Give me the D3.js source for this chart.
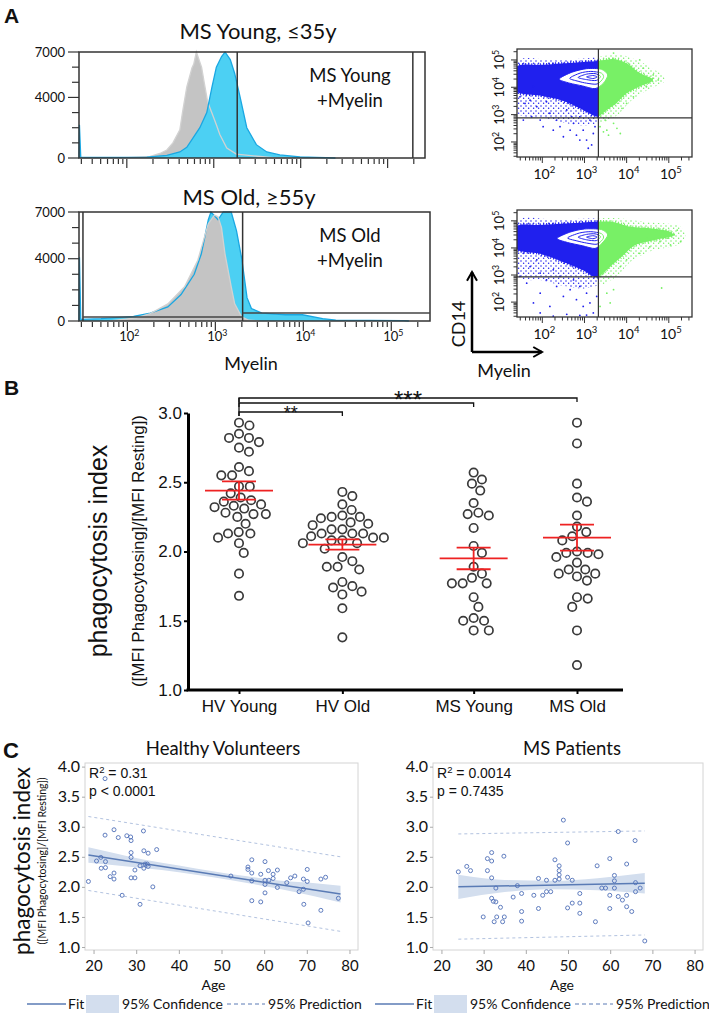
<!DOCTYPE html>
<html>
<head>
<meta charset="utf-8">
<script src="https://cdn.jsdelivr.net/npm/d3@7"></script>
<style>
  body { margin: 0; background: #fff; }
  text { fill: #111; }
</style>
</head>
<body>
<svg id="fig" width="709" height="1018"></svg>
<script>
// ---------- A: histograms (log10 myelin signal, events)
var youngRestLog = [1.46, 2.0, 2.27, 2.38, 2.46, 2.53, 2.61, 2.64, 2.69, 2.75, 2.77, 2.80, 2.86, 2.89, 2.93, 2.99, 3.03, 3.07, 3.15, 3.26, 3.53, 3.68, 3.9];
var youngRestCount = [0, 20, 100, 300, 530, 1000, 1860, 3000, 4690, 5960, 6200, 7000, 6000, 5000, 3700, 2800, 2200, 1550, 660, 260, 100, 30, 0];
var youngMyelinLog = [1.45, 1.455, 1.47, 1.6, 1.9, 2.23, 2.46, 2.61, 2.69, 2.84, 2.92, 2.98, 3.03, 3.09, 3.13, 3.19, 3.24, 3.30, 3.38, 3.49, 3.61, 3.76, 3.99, 4.18, 4.4];
var youngMyelinCount = [0, 2200, 60, 40, 40, 60, 180, 400, 700, 2000, 3000, 4700, 6000, 6700, 7000, 6500, 5600, 4100, 2000, 880, 400, 200, 80, 40, 0];
var oldRestLog = [1.8, 2.1, 2.26, 2.46, 2.65, 2.80, 2.92, 2.99, 3.03, 3.07, 3.11, 3.18, 3.22, 3.30, 3.38, 3.5];
var oldRestCount = [0, 200, 470, 1100, 2200, 3900, 6250, 6800, 6700, 6000, 4300, 2200, 1100, 260, 50, 0];
var oldMyelinLog = [1.45, 1.455, 1.47, 1.7, 2.07, 2.26, 2.46, 2.61, 2.76, 2.84, 2.92, 2.95, 3.03, 3.09, 3.18, 3.24, 3.30, 3.36, 3.41, 3.53, 3.80, 3.99, 4.22, 4.37, 4.75, 5.14, 5.2];
var oldMyelinCount = [0, 4100, 100, 150, 300, 500, 900, 1700, 3000, 4300, 6500, 7000, 6500, 7000, 7000, 5800, 4000, 1500, 800, 500, 400, 400, 150, 60, 40, 30, 0];
var histTicks = [0, 1000, 2000, 3000, 4000, 5000, 6000, 7000];
var histLabels = [0, 4000, 7000];
var decades = [2, 3, 4, 5];

// ---------- A: dot plots (log10 myelin, log10 CD14)
var youngCells = [[1.40,4.76],[1.95,4.82],[2.73,4.90],[3.30,4.96],[3.68,5.03],[4.00,4.88],[4.31,4.52],[4.63,4.27],[4.31,4.03],[4.00,3.78],[3.76,3.42],[3.53,3.17],[3.35,2.95],[3.25,2.95],[3.05,3.10],[2.80,3.30],[2.40,3.55],[1.95,3.70],[1.40,3.85]];
var youngFringe = [[1.40,4.95],[2.2,5.0],[3.0,5.05],[3.8,5.2],[4.3,4.95],[4.8,4.5],[4.9,4.2],[4.5,3.9],[4.1,3.5],[3.8,3.0],[3.5,2.75],[3.0,2.6],[2.5,2.7],[2.0,2.9],[1.4,3.1]];
var youngContours = [
  [[2.40,4.30],[2.70,4.55],[3.05,4.68],[3.40,4.66],[3.55,4.45],[3.45,4.15],[3.25,3.95],[2.95,4.05],[2.65,4.15]],
  [[2.65,4.33],[2.90,4.52],[3.15,4.58],[3.40,4.52],[3.45,4.35],[3.30,4.12],[3.05,4.15],[2.85,4.22]],
  [[2.85,4.36],[3.05,4.48],[3.25,4.50],[3.38,4.40],[3.28,4.25],[3.05,4.28]],
  [[3.05,4.38],[3.20,4.43],[3.30,4.38],[3.20,4.32]]];
var youngSparse = [[1.47,3.65],[1.59,3.41],[1.71,3.53],[1.87,3.29],[1.95,2.80],[2.10,3.47],[2.18,3.05],[2.34,2.80],[2.42,2.56],[2.58,3.17],[2.66,2.43],[2.74,2.68],[2.81,2.25],[2.89,2.92],[2.97,2.43],[3.05,2.07],[3.13,2.80],[3.17,1.89],[3.21,2.31],[3.25,2.56],[1.55,2.80],[1.79,4.02],[1.95,3.84],[2.50,2.19],[2.26,2.43],[3.09,1.77],[2.89,2.07],[2.02,2.56],[1.75,2.92],[2.70,2.92],
  [3.37,2.56],[3.45,2.37],[3.53,2.43],[3.57,2.25],[3.69,2.68],[3.77,2.50],[3.85,2.31],[3.49,2.80],[4.39,4.70],[4.63,4.45],[4.75,4.27],[4.47,4.02],[4.16,3.65],[4.00,3.41],[3.89,3.23],[4.31,5.00],[3.69,5.25]];
var oldCells = [[1.40,4.80],[1.95,4.85],[2.73,4.92],[3.30,4.97],[3.70,4.95],[4.10,4.78],[4.60,4.72],[5.00,4.62],[5.10,4.45],[4.70,4.30],[4.20,4.10],[3.90,3.70],[3.60,3.30],[3.35,2.95],[3.20,2.95],[3.00,3.15],[2.70,3.35],[2.30,3.60],[1.90,3.80],[1.40,3.95]];
var oldFringe = [[1.40,4.98],[2.2,5.05],[3.0,5.08],[3.8,5.1],[4.5,4.95],[5.2,4.85],[5.4,4.5],[5.2,4.1],[4.6,3.9],[4.1,3.5],[3.8,3.0],[3.5,2.7],[3.0,2.5],[2.5,2.6],[2.0,2.8],[1.4,3.0]];
var oldContours = [
  [[2.35,4.35],[2.65,4.58],[3.00,4.70],[3.40,4.68],[3.55,4.48],[3.42,4.18],[3.25,3.98],[2.95,4.08],[2.60,4.20]],
  [[2.60,4.37],[2.88,4.55],[3.15,4.60],[3.40,4.53],[3.45,4.36],[3.30,4.14],[3.05,4.18],[2.82,4.26]],
  [[2.85,4.40],[3.05,4.50],[3.25,4.52],[3.38,4.42],[3.28,4.27],[3.05,4.30]],
  [[3.05,4.40],[3.20,4.45],[3.30,4.40],[3.20,4.34]]];
var oldSparse = [[1.55,3.80],[1.71,3.31],[1.87,3.56],[1.95,3.07],[2.10,2.82],[2.26,3.19],[1.63,2.70],[2.34,2.58],[2.50,2.21],[2.66,2.46],[2.81,2.09],[2.89,2.58],[2.97,1.84],[3.05,2.33],[3.13,1.97],[3.21,1.60],[3.29,2.21],[1.95,1.60],[2.26,1.48],[2.58,1.55],[2.89,1.51],[3.05,1.52],[1.95,2.33],[1.79,1.97],[2.18,1.84],[2.74,2.82],[2.42,2.95],[1.47,2.95],
  [3.37,1.84],[3.53,2.33],[3.69,2.46],[3.61,1.97],[4.83,2.52],[4.71,4.60],[4.96,4.36],[5.12,4.48],[5.28,4.23],[5.04,4.11],[4.55,4.04],[4.31,3.80],[4.00,3.56],[3.85,3.31],[4.47,4.36],[5.20,4.66],[4.79,4.23]];
var myelinGate = 3.33, cd14Gate = [2.88, 2.93];

// ---------- B: phagocytosis index per group
var groupNames = ["HV Young", "HV Old", "MS Young", "MS Old"];
var hvYoung = [2.93,2.91,2.82,2.79,2.82,2.85,2.75,2.72,2.58,2.55,2.55,2.61,2.47,2.47,2.39,2.36,2.37,2.42,2.33,2.31,2.28,2.32,2.34,2.27,2.25,2.27,2.20,2.14,2.13,2.10,2.13,2.06,1.99,1.84,1.68];
var hvOld = [2.43,2.40,2.34,2.26,2.25,2.30,2.24,2.25,2.19,2.16,2.21,2.16,2.20,2.10,2.08,2.13,2.13,2.13,2.10,2.11,2.06,2.02,2.06,2.08,1.96,1.93,1.89,1.87,1.89,1.75,1.78,1.74,1.69,1.71,1.59,1.38];
var msYoung = [2.57,2.52,2.49,2.44,2.35,2.27,2.26,2.28,2.17,2.04,1.99,1.89,1.81,1.77,1.77,1.77,1.84,1.67,1.60,1.50,1.52,1.50,1.43,1.43];
var msOld = [2.93,2.78,2.49,2.36,2.39,2.26,2.14,2.18,2.11,2.08,1.99,1.98,1.96,1.99,2.00,1.92,1.84,1.82,1.87,1.87,1.84,1.79,1.67,1.66,1.60,1.43,1.18];
var groupMean = [2.44, 2.05, 1.95, 2.10];
var groupSem = [0.066, 0.037, 0.078, 0.094];
var compareTo = [1, 2, 3];
var compareLabel = ["**", "", "***"];
var indexTicks = [1.0, 1.5, 2.0, 2.5, 3.0];

// ---------- C: index vs age
var hvAge = [18.8,20.7,21.7,21.8,22.8,22.8,22.7,23.9,24.8,24.8,24.8,25.8,26.7,27.8,28.7,28.8,28.8,28.8,28.8,29.7,29.7,30.9,30.9,31.7,31.8,31.8,32.1,32.6,32.8,32.8,33.9,34.8,22.7,52.2,56.2,56.2,57.1,57.1,57.1,57.1,59.2,59.2,60.2,60.2,60.2,60.2,61.0,61.1,62.1,62.1,63.1,63.1,65.3,66.2,67.2,68.2,69.2,69.2,69.3,70.1,70.1,73.3,73.3,74.4,77.4,70.3];
var hvIndex = [2.09,2.43,2.49,2.31,2.42,2.32,2.86,2.17,2.23,2.13,2.95,2.82,1.86,2.85,2.83,2.77,2.57,2.49,2.15,2.15,2.28,1.71,2.35,2.93,2.60,2.31,2.38,2.38,2.56,2.34,2.00,2.62,3.80,2.18,2.33,2.29,2.45,2.23,2.10,1.77,2.21,1.75,2.42,2.11,2.04,1.90,2.27,2.11,2.21,2.14,2.28,1.99,2.07,2.15,2.18,1.92,2.13,1.96,1.71,2.29,2.09,2.13,1.61,2.16,1.81,1.40];
var hvFitAge = [18.8, 77.9], hvFit = [2.53, 1.88];
var hvPredLow = [1.94, 1.26], hvPredHigh = [3.17, 2.50];
var hvCiAge = [18.8, 25, 32, 40, 48, 56, 64, 72, 77.9];
var hvCiLow = [2.40, 2.36, 2.31, 2.245, 2.16, 2.065, 1.96, 1.84, 1.74];
var hvCiHigh = [2.66, 2.56, 2.45, 2.355, 2.26, 2.175, 2.10, 2.06, 2.02];

var msAge = [24.0,26.0,26.9,29.9,30.9,30.9,31.9,31.9,31.9,31.9,32.3,32.9,32.9,33.1,34.0,34.8,34.9,37.0,38.0,39.0,39.0,41.9,43.0,43.0,44.0,44.9,44.9,45.9,46.9,46.9,47.9,47.9,47.9,47.9,48.9,49.9,49.9,49.9,51.0,51.0,52.8,52.8,52.8,56.9,58.0,58.9,59.9,59.9,59.9,61.0,61.0,61.0,61.9,61.9,62.9,63.9,63.9,63.9,65.1,65.9,66.0,66.0,67.1,32.5,34.5,39.0,56.5,68.2];
var msIndex = [2.25,2.34,2.27,1.50,2.27,2.47,2.43,2.57,2.15,1.81,1.76,1.98,1.75,1.50,1.66,2.51,1.50,1.83,2.02,1.89,1.59,1.86,2.14,1.64,1.86,2.11,1.92,1.92,2.11,2.45,2.35,2.27,2.20,2.13,3.11,2.73,2.16,1.65,2.11,1.73,1.89,1.73,1.56,2.35,1.98,1.98,2.47,1.86,1.64,2.10,2.19,1.98,2.92,1.84,1.78,2.38,1.86,1.67,1.59,2.77,2.07,1.92,1.98,1.42,1.42,1.43,1.42,1.10];
var msFitAge = [24.0, 68.2], msFit = [2.00, 2.06];
var msPredLow = [1.13, 1.20], msPredHigh = [2.88, 2.93];
var msCiAge = [24.0, 35, 46, 57, 68.2];
var msCiLow = [1.80, 1.915, 1.96, 1.945, 1.89];
var msCiHigh = [2.20, 2.115, 2.10, 2.145, 2.23];
var ageTicks = [20, 30, 40, 50, 60, 70, 80];
var cTicks = [1.0, 1.5, 2.0, 2.5, 3.0, 3.5, 4.0];

var LATO = "Lato, 'Open Sans', sans-serif";
var ARIAL = "'Liberation Sans', Arial, sans-serif";
var svg = d3.select("#fig");
var defs = svg.append("defs");

function txt(g, x, y, s, size, font, anchor) {
  return g.append("text").attr("x", x).attr("y", y)
    .attr("font-size", size).attr("font-family", font)
    .attr("text-anchor", anchor || "start").text(s);
}
function powLabel(g, x, y, exp, size, rotate) {
  var t = g.append("text").attr("font-family", LATO).attr("font-size", size).attr("text-anchor", "middle");
  if (rotate) t.attr("transform", "translate(" + x + "," + y + ") rotate(-90)");
  else t.attr("x", x).attr("y", y);
  t.append("tspan").text("10");
  t.append("tspan").attr("dy", -size * 0.42).attr("font-size", size * 0.68).text(exp);
}
// log10 positions of 1..9 x 10^n inside a range
function logTicks(lo, hi) {
  var out = [];
  for (var n = 1; n <= 5; n++) for (var k = 1; k <= 9; k++) {
    var v = n + Math.log10(k);
    if (v >= lo && v <= hi) out.push({ v: v, major: k === 1 });
  }
  return out;
}

// panel letters
txt(svg, 4, 23, "A", 21, ARIAL).attr("font-weight", "bold");
txt(svg, 4, 395, "B", 21, ARIAL).attr("font-weight", "bold");
txt(svg, 3, 758, "C", 22, ARIAL).attr("font-weight", "bold");

// ================= A histograms
function drawHist(c) {
  var g = svg.append("g");
  var x = d3.scaleLinear().domain(c.dom).range([c.x0, c.x1]);
  var y = d3.scaleLinear().domain([0, 7000]).range([c.y1, c.y0]);
  var area = d3.area().x(function (d) { return x(d[0]); }).y0(y(0)).y1(function (d) { return y(d[1]); });
  var line = d3.line().x(function (d) { return x(d[0]); }).y(function (d) { return y(d[1]); });
  c.layers.forEach(function (L) {
    g.append("path").attr("d", area(d3.zip(L.log, L.count))).attr("fill", L.fill);
  });
  c.layers.forEach(function (L) {
    g.append("path").attr("d", line(d3.zip(L.log, L.count))).attr("fill", "none")
      .attr("stroke", L.stroke).attr("stroke-width", 1.3);
  });
  g.append("rect").attr("x", c.x0).attr("y", c.y0).attr("width", c.x1 - c.x0).attr("height", c.y1 - c.y0)
    .attr("fill", "none").attr("stroke", "#333").attr("stroke-width", 1.5);
  c.vgates.forEach(function (v) {
    g.append("line").attr("x1", x(v)).attr("x2", x(v)).attr("y1", c.y0).attr("y2", c.y1)
      .attr("stroke", "#333").attr("stroke-width", 1.5);
  });
  c.hgates.forEach(function (h) {
    g.append("line").attr("x1", x(h[0])).attr("x2", x(h[1])).attr("y1", y(h[2])).attr("y2", y(h[2]))
      .attr("stroke", "#444").attr("stroke-width", 1.5);
  });
  histTicks.forEach(function (t) {
    var major = histLabels.indexOf(t) >= 0;
    g.append("line").attr("x1", c.x0 - (major ? 11 : 7)).attr("x2", c.x0).attr("y1", y(t)).attr("y2", y(t))
      .attr("stroke", "#333").attr("stroke-width", 1.2);
  });
  histLabels.forEach(function (t) {
    txt(g, c.x0 - 14, y(t) + 4.5, t, 13, LATO, "end");
  });
  logTicks(c.dom[0], c.dom[1]).forEach(function (t) {
    g.append("line").attr("x1", x(t.v)).attr("x2", x(t.v)).attr("y1", c.y1 + 1).attr("y2", c.y1 + (t.major ? 10 : 6))
      .attr("stroke", "#333").attr("stroke-width", 1.2);
  });
  if (c.labels) decades.forEach(function (d) { powLabel(g, x(d) + 2, c.y1 + 20, d, 13); });
  txt(g, c.tx, c.ty, c.title, 22, LATO, "middle");
  txt(g, 350, c.y0 + 30, c.line1, 18.5, LATO, "middle");
  txt(g, 350, c.y0 + 55, "+Myelin", 18.5, LATO, "middle");
}

drawHist({
  dom: [1.45, 5.43], x0: 79, x1: 425, y0: 52, y1: 158, labels: false,
  title: "MS Young, \u226435y", tx: 258, ty: 39, line1: "MS Young",
  vgates: [3.27, 5.29], hgates: [],
  layers: [
    { log: youngRestLog, count: youngRestCount, fill: "#c4c4c4", stroke: "#d2d2d2" },
    { log: youngMyelinLog, count: youngMyelinCount, fill: "#4cd0f3", stroke: "#1aa7e2" }
  ]
});
drawHist({
  dom: [1.45, 5.44], x0: 79, x1: 430, y0: 212, y1: 321, labels: true,
  title: "MS Old, \u226555y", tx: 249, ty: 205, line1: "MS Old",
  vgates: [1.495, 3.31], hgates: [[1.495, 3.31, 260], [3.31, 5.44, 510]],
  layers: [
    { log: oldMyelinLog, count: oldMyelinCount, fill: "#4cd0f3", stroke: "#1aa7e2" },
    { log: oldRestLog, count: oldRestCount, fill: "#c4c4c4", stroke: "#d2d2d2" }
  ]
});
txt(svg, 251, 370, "Myelin", 18, LATO, "middle");

// ================= A dot plots
var BLUE = "#2020ee", GREEN = "#78f066";
[["speckBlue", BLUE], ["speckGreen", GREEN]].forEach(function (p) {
  var pat = defs.append("pattern").attr("id", p[0]).attr("width", 5).attr("height", 5).attr("patternUnits", "userSpaceOnUse");
  pat.append("circle").attr("cx", 1).attr("cy", 1).attr("r", 0.75).attr("fill", p[1]);
  pat.append("circle").attr("cx", 3.6).attr("cy", 3.2).attr("r", 0.75).attr("fill", p[1]);
});
function drawDots(c) {
  var x = d3.scaleLinear().domain([1.4, 5.55]).range([517, 692]);
  var y = d3.scaleLinear().domain([1.45, 5.4]).range([c.y1, c.y0]);
  var g = svg.append("g");
  var gx = x(myelinGate);
  defs.append("clipPath").attr("id", "neg" + c.id).append("rect")
    .attr("x", 517).attr("y", c.y0).attr("width", gx - 517).attr("height", c.y1 - c.y0);
  defs.append("clipPath").attr("id", "pos" + c.id).append("rect")
    .attr("x", gx).attr("y", c.y0).attr("width", 692 - gx).attr("height", c.y1 - c.y0);
  var closed = d3.line().x(function (d) { return x(d[0]); }).y(function (d) { return y(d[1]); })
    .curve(d3.curveCardinalClosed.tension(0.2));
  [["neg", BLUE, "speckBlue"], ["pos", GREEN, "speckGreen"]].forEach(function (side) {
    var s = g.append("g").attr("clip-path", "url(#" + side[0] + c.id + ")");
    s.append("path").attr("d", closed(c.fringe)).attr("fill", "url(#" + side[2] + ")");
    s.append("path").attr("d", closed(c.cells)).attr("fill", side[1])
      .attr("stroke", side[1]).attr("stroke-width", 3).attr("stroke-dasharray", "1,2");
    s.append("path").attr("d", closed(c.contours[0])).attr("fill", "#fff");
    c.contours.forEach(function (ct) {
      s.append("path").attr("d", closed(ct)).attr("fill", "none").attr("stroke", side[1]).attr("stroke-width", 1);
    });
  });
  g.selectAll("circle.ev").data(c.sparse).enter().append("circle")
    .attr("cx", function (d) { return x(d[0]); }).attr("cy", function (d) { return y(d[1]); })
    .attr("r", 0.9).attr("fill", function (d) { return d[0] < myelinGate ? BLUE : GREEN; });
  g.append("rect").attr("x", 517).attr("y", c.y0).attr("width", 175).attr("height", c.y1 - c.y0)
    .attr("fill", "none").attr("stroke", "#333").attr("stroke-width", 1.3);
  g.append("line").attr("x1", gx).attr("x2", gx).attr("y1", c.y0).attr("y2", c.y1).attr("stroke", "#333").attr("stroke-width", 1.2);
  g.append("line").attr("x1", 517).attr("x2", 692).attr("y1", y(c.cdGate)).attr("y2", y(c.cdGate)).attr("stroke", "#333").attr("stroke-width", 1.2);
  logTicks(1.45, 5.4).forEach(function (t) {
    g.append("line").attr("x1", 517 - (t.major ? 6 : 3.5)).attr("x2", 517).attr("y1", y(t.v)).attr("y2", y(t.v))
      .attr("stroke", "#333").attr("stroke-width", 1);
  });
  logTicks(1.4, 5.55).forEach(function (t) {
    g.append("line").attr("x1", x(t.v)).attr("x2", x(t.v)).attr("y1", c.y1).attr("y2", c.y1 + (t.major ? 6 : 3.5))
      .attr("stroke", "#333").attr("stroke-width", 1);
  });
  decades.forEach(function (d) {
    powLabel(g, x(d) + 2, c.y1 + 22, d, 14);
    powLabel(g, 504, y(d), d, 13, true);
  });
}
drawDots({ id: "young", y0: 49, y1: 157, cells: youngCells, fringe: youngFringe, contours: youngContours, sparse: youngSparse, cdGate: cd14Gate[0] });
drawDots({ id: "old", y0: 210, y1: 317, cells: oldCells, fringe: oldFringe, contours: oldContours, sparse: oldSparse, cdGate: cd14Gate[1] });

// CD14 / Myelin arrows
defs.append("marker").attr("id", "arr").attr("viewBox", "0 0 10 10").attr("refX", 8).attr("refY", 5)
  .attr("markerWidth", 5).attr("markerHeight", 5).attr("orient", "auto")
  .append("path").attr("d", "M1,1 L8,5 L1,9").attr("fill", "none").attr("stroke", "#000").attr("stroke-width", 1.6);
svg.append("path").attr("d", "M472,352 L472,272").attr("stroke", "#000").attr("stroke-width", 2.5).attr("marker-end", "url(#arr)");
svg.append("path").attr("d", "M472,352 L542,352").attr("stroke", "#000").attr("stroke-width", 2.5).attr("marker-end", "url(#arr)");
svg.append("text").attr("transform", "translate(465,324) rotate(-90)").attr("text-anchor", "middle")
  .attr("font-family", LATO).attr("font-size", 18).text("CD14");
txt(svg, 504, 377, "Myelin", 18, LATO, "middle");

// ================= B swarm plot
var yB = d3.scaleLinear().domain([1, 3]).range([690, 413]);
var xB = d3.scaleLinear().domain([0, 3.27]).range([239, 577]);
function groupX(i) { return xB(i + (i > 1 ? 0.27 : 0)); }
function swarm(vals, r) {
  var placed = [];
  vals.map(function (v) { return { v: v, y: yB(v) }; })
    .sort(function (a, b) { return a.y - b.y; })
    .forEach(function (p) {
      var cands = [0];
      placed.forEach(function (q) {
        var dy = Math.abs(q.y - p.y);
        if (dy < 2 * r) { var dx = Math.sqrt(4 * r * r - dy * dy); cands.push(q.dx + dx, q.dx - dx); }
      });
      cands.sort(function (a, b) { return Math.abs(a) - Math.abs(b); });
      for (var k = 0; k < cands.length; k++) {
        var cx = cands[k];
        var ok = placed.every(function (q) { return (q.dx - cx) * (q.dx - cx) + (q.y - p.y) * (q.y - p.y) >= 4 * r * r - 0.01; });
        if (ok) { p.dx = cx; break; }
      }
      placed.push(p);
    });
  return placed;
}
var gB = svg.append("g");
[hvYoung, hvOld, msYoung, msOld].forEach(function (vals, i) {
  var cx = groupX(i);
  gB.selectAll("circle.g" + i).data(swarm(vals, 5.4)).enter().append("circle")
    .attr("cx", function (d) { return cx + d.dx; }).attr("cy", function (d) { return d.y; })
    .attr("r", 4.2).attr("fill", "#fff").attr("stroke", "#3a3a3a").attr("stroke-width", 1.7);
  var red = "#ee2222";
  gB.append("line").attr("x1", cx - 34).attr("x2", cx + 34).attr("y1", yB(groupMean[i])).attr("y2", yB(groupMean[i]))
    .attr("stroke", red).attr("stroke-width", 1.8);
  [groupMean[i] - groupSem[i], groupMean[i] + groupSem[i]].forEach(function (v) {
    gB.append("line").attr("x1", cx - 17).attr("x2", cx + 17).attr("y1", yB(v)).attr("y2", yB(v))
      .attr("stroke", red).attr("stroke-width", 1.8);
  });
  gB.append("line").attr("x1", cx).attr("x2", cx).attr("y1", yB(groupMean[i] - groupSem[i])).attr("y2", yB(groupMean[i] + groupSem[i]))
    .attr("stroke", red).attr("stroke-width", 1.8);
});
var yAxB = gB.append("g").attr("transform", "translate(188,0)")
  .call(d3.axisLeft(yB).tickValues(indexTicks).tickFormat(d3.format(".1f")).tickSize(4).tickSizeOuter(0).tickPadding(2));
yAxB.attr("font-size", 17).attr("font-family", ARIAL);
yAxB.select(".domain").attr("stroke-width", 3);
yAxB.selectAll(".tick line").attr("stroke-width", 2);
gB.append("line").attr("x1", 186.5).attr("x2", 623).attr("y1", 690).attr("y2", 690).attr("stroke", "#000").attr("stroke-width", 3);
var xOrd = d3.scaleOrdinal().domain(groupNames).range(groupNames.map(function (n, i) { return groupX(i); }));
var xAxB = gB.append("g").attr("transform", "translate(0,690)")
  .call(d3.axisBottom(xOrd).tickSize(4).tickSizeOuter(0).tickPadding(6));
xAxB.select(".domain").remove();
xAxB.attr("font-size", 17).attr("font-family", ARIAL);
xAxB.selectAll(".tick line").attr("stroke-width", 2);
// significance brackets
var bracketY = [412, 403, 398];
var starSize = [18, 18, 24];
var starBase = [419, 0, 408];
compareTo.forEach(function (j, k) {
  var x1 = groupX(0), x2 = groupX(j), by = bracketY[k];
  gB.append("path").attr("d", "M" + x1 + "," + (by + 4) + "V" + by + "H" + x2 + "V" + (by + 4))
    .attr("fill", "none").attr("stroke", "#111").attr("stroke-width", 1.3);
  if (compareLabel[k]) txt(gB, (x1 + x2) / 2, starBase[k], compareLabel[k], starSize[k], ARIAL, "middle");
});
gB.append("line").attr("x1", groupX(0)).attr("x2", groupX(0)).attr("y1", 398).attr("y2", 416).attr("stroke", "#111").attr("stroke-width", 1.3);
svg.append("text").attr("transform", "translate(107,551) rotate(-90)").attr("text-anchor", "middle")
  .attr("font-family", ARIAL).attr("font-size", 25).text("phagocytosis index");
svg.append("text").attr("transform", "translate(144,551) rotate(-90)").attr("text-anchor", "middle")
  .attr("font-family", ARIAL).attr("font-size", 17).text("([MFI Phagocytosing]/[MFI Resting])");

// ================= C regressions
function drawReg(c) {
  var g = svg.append("g");
  var x = d3.scaleLinear().domain([18, 82]).range([c.x0, c.x1]);
  var y = d3.scaleLinear().domain([0.95, 4.06]).range([950, 763]);
  g.append("rect").attr("x", c.x0).attr("y", 763).attr("width", c.x1 - c.x0).attr("height", 187)
    .attr("fill", "none").attr("stroke", "#d4d4d4").attr("stroke-width", 1);
  var band = d3.area().x(function (d) { return x(d[0]); }).y0(function (d) { return y(d[1]); })
    .y1(function (d) { return y(d[2]); }).curve(d3.curveMonotoneX);
  g.append("path").attr("d", band(d3.zip(c.ciAge, c.ciLow, c.ciHigh))).attr("fill", "#d3deee");
  var ln = d3.line().x(function (d) { return x(d[0]); }).y(function (d) { return y(d[1]); });
  [c.predLow, c.predHigh].forEach(function (p) {
    g.append("path").attr("d", ln(d3.zip(c.fitAge, p))).attr("fill", "none")
      .attr("stroke", "#b3c3e0").attr("stroke-width", 1).attr("stroke-dasharray", "3,3");
  });
  g.append("path").attr("d", ln(d3.zip(c.fitAge, c.fit))).attr("fill", "none").attr("stroke", "#5a7bb5").attr("stroke-width", 1.5);
  g.selectAll("circle.pt").data(d3.zip(c.age, c.idx)).enter().append("circle")
    .attr("cx", function (d) { return x(d[0]); }).attr("cy", function (d) { return y(d[1]); })
    .attr("r", 2).attr("fill", "none").attr("stroke", "#4f6fb8").attr("stroke-width", 0.9);
  var ya = g.append("g").attr("transform", "translate(" + c.x0 + ",0)")
    .call(d3.axisLeft(y).tickValues(cTicks).tickFormat(d3.format(".1f")).tickSize(3).tickPadding(2));
  ya.select(".domain").remove();
  ya.attr("font-size", 16).attr("font-family", LATO);
  ya.selectAll(".tick line").attr("stroke", "#aaa");
  var xa = g.append("g").attr("transform", "translate(0,950)")
    .call(d3.axisBottom(x).tickValues(ageTicks).tickSize(4).tickPadding(6));
  xa.select(".domain").remove();
  xa.attr("font-size", 15).attr("font-family", LATO);
  xa.selectAll(".tick line").attr("stroke", "#aaa");
  txt(g, (c.x0 + c.x1) / 2 + c.ageShift, 990, "Age", 14, LATO, "middle");
  txt(g, c.tx, 755, c.title, 18.5, LATO, "middle");
  var r2 = txt(g, c.x0 + 4, 778, "R", 14, ARIAL);
  r2.append("tspan").attr("dy", -5).attr("font-size", 9.5).text("2");
  r2.append("tspan").attr("dy", 5).text(" = " + c.r2);
  txt(g, c.x0 + 4, 796, c.p, 14, ARIAL);
  // legend
  var lx = c.x0 - 58, ly = 1004;
  g.append("line").attr("x1", lx).attr("x2", lx + 39).attr("y1", ly).attr("y2", ly).attr("stroke", "#5a7bb5").attr("stroke-width", 1.5);
  txt(g, lx + 41, ly + 5, "Fit", 14, LATO);
  g.append("rect").attr("x", lx + 59).attr("y", ly - 9).attr("width", 33).attr("height", 18).attr("fill", "#d3deee");
  txt(g, lx + 95, ly + 5, "95% Confidence", 14, LATO);
  g.append("line").attr("x1", lx + 200).attr("x2", lx + 238).attr("y1", ly).attr("y2", ly)
    .attr("stroke", "#5a7bb5").attr("stroke-width", 1).attr("stroke-dasharray", "4,3");
  txt(g, lx + 241, ly + 5, "95% Prediction", 14, LATO);
}
drawReg({
  x0: 85, x1: 358, title: "Healthy Volunteers", tx: 223, r2: "0.31", p: "p < 0.0001", ageShift: -8,
  age: hvAge, idx: hvIndex, fitAge: hvFitAge, fit: hvFit, predLow: hvPredLow, predHigh: hvPredHigh,
  ciAge: hvCiAge, ciLow: hvCiLow, ciHigh: hvCiHigh
});
drawReg({
  x0: 433, x1: 703, title: "MS Patients", tx: 572, r2: "0.0014", p: "p = 0.7435", ageShift: -6,
  age: msAge, idx: msIndex, fitAge: msFitAge, fit: msFit, predLow: msPredLow, predHigh: msPredHigh,
  ciAge: msCiAge, ciLow: msCiLow, ciHigh: msCiHigh
});
svg.append("text").attr("transform", "translate(30,861) rotate(-90)").attr("text-anchor", "middle")
  .attr("font-family", LATO).attr("font-size", 22.5).text("phagocytosis index");
svg.append("text").attr("transform", "translate(46,861) rotate(-90)").attr("text-anchor", "middle")
  .attr("font-family", LATO).attr("font-size", 10.5).text("([MFI Phagocytosing]/[MFI Resting])");
</script>
</body>
</html>
